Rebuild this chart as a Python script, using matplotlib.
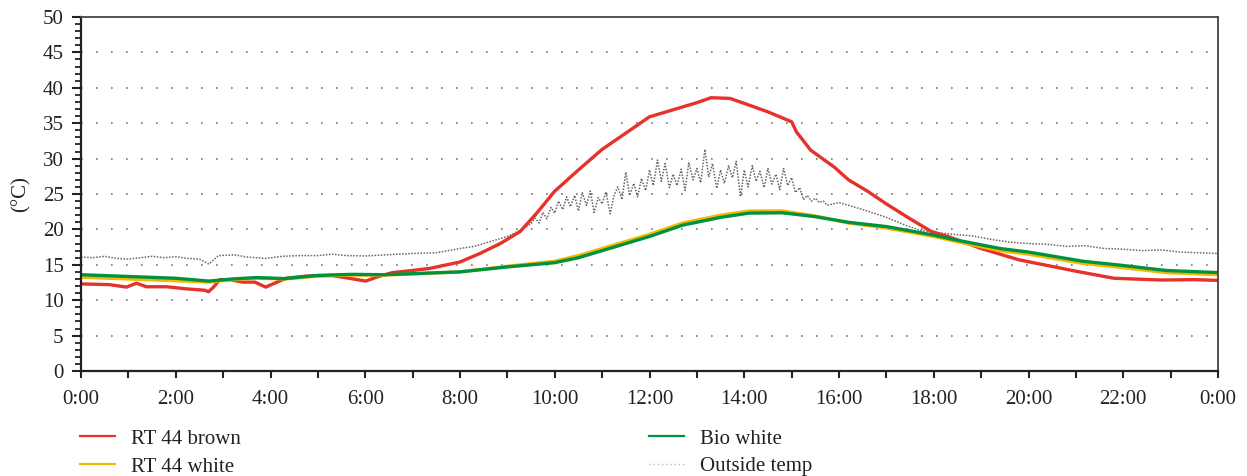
import matplotlib
matplotlib.use("Agg")
import matplotlib.pyplot as plt
from matplotlib.ticker import MultipleLocator, FixedLocator
from matplotlib.lines import Line2D

plt.rcParams['font.family'] = ['Liberation Serif', 'DejaVu Serif']

# ---------------- data (hours of day, °C) ----------------
red_t = [0, 0.6, 0.96, 1.17, 1.38, 1.8, 2.23, 2.62, 2.69, 2.79, 2.93, 3.14, 3.42, 3.67, 3.9,
         4.12, 4.33, 4.75, 5.28, 5.66, 6.01, 6.3, 6.58, 7.0, 7.37, 8.0, 8.42, 8.85, 9.27, 9.62,
         10.0, 10.5, 11.0, 11.5, 12.0, 12.5, 13.0, 13.3, 13.7, 14.0, 14.5, 15.0, 15.1, 15.4,
         15.9, 16.2, 16.6, 17.0, 17.5, 17.95, 18.3, 19.0, 19.4, 19.8, 20.7, 21.0, 21.8, 22.8, 23.5, 24.0]
red_v = [12.3, 12.2, 11.85, 12.4, 11.9, 11.9, 11.6, 11.4, 11.2, 11.8, 12.9, 12.9, 12.55, 12.55, 11.85,
         12.5, 13.1, 13.4, 13.5, 13.1, 12.7, 13.4, 13.9, 14.2, 14.5, 15.4, 16.6, 18.0, 19.7, 22.3,
         25.4, 28.4, 31.3, 33.6, 35.9, 36.9, 37.9, 38.6, 38.5, 37.8, 36.6, 35.2, 33.8, 31.2,
         28.8, 27.0, 25.4, 23.6, 21.5, 19.7, 19.0, 17.3, 16.5, 15.7, 14.5, 14.1, 13.1, 12.85, 12.9, 12.8]

bio_t = [0, 1, 2, 2.7, 3.2, 3.7, 4.3, 5, 5.7, 6.4, 7, 8, 9, 10.0, 10.5, 11.3, 12, 12.7, 13.5,
         14.1, 14.8, 15.5, 16.2, 17, 18, 18.4, 19.4, 20, 21.15, 22, 22.9, 24]
bio_v = [13.6, 13.35, 13.1, 12.7, 13.0, 13.2, 13.05, 13.5, 13.65, 13.6, 13.75, 14.0, 14.7, 15.3,
         16.0, 17.6, 19.0, 20.6, 21.7, 22.3, 22.35, 21.8, 21.0, 20.4, 19.2, 18.6, 17.3, 16.8,
         15.5, 14.9, 14.2, 13.9]

white_t = bio_t
white_v = [13.25, 13.0, 12.75, 12.55, 12.9, 13.1, 13.0, 13.4, 13.55, 13.55, 13.7, 14.0, 14.8, 15.5,
           16.3, 17.9, 19.3, 20.9, 22.0, 22.6, 22.6, 21.9, 20.9, 20.2, 19.0, 18.4, 17.0, 16.5,
           15.2, 14.6, 13.9, 13.6]

out_t = [0, 0.25, 0.5, 0.75, 1, 1.25, 1.5, 1.75, 2, 2.25, 2.5, 2.7, 2.9, 3.25, 3.5, 3.9, 4.25,
         4.6, 5, 5.3, 5.6, 6, 6.4, 6.7, 7, 7.5, 8, 8.3, 8.6, 9, 9.25,
         9.50, 9.58, 9.67, 9.75, 9.83, 9.92, 10.00, 10.08, 10.17, 10.25, 10.33, 10.42, 10.50,
         10.58, 10.67, 10.75, 10.83, 10.92, 11.00, 11.08, 11.17, 11.25, 11.33, 11.42, 11.50,
         11.58, 11.67, 11.75, 11.83, 11.92, 12.00, 12.08, 12.17, 12.25, 12.33, 12.42, 12.50,
         12.58, 12.67, 12.75, 12.83, 12.92, 13.00, 13.08, 13.17, 13.25, 13.33, 13.42, 13.50,
         13.58, 13.67, 13.75, 13.83, 13.92, 14.00, 14.08, 14.17, 14.25, 14.33, 14.42, 14.50,
         14.58, 14.67, 14.75, 14.83, 14.92, 15.00, 15.08, 15.17, 15.25, 15.33, 15.42, 15.50,
         15.58, 15.67, 15.75,
         16, 16.3, 16.6, 17, 17.4, 17.7, 18, 18.4, 18.8, 19.2, 19.6, 20, 20.4, 20.8, 21.2, 21.6,
         22, 22.4, 22.8, 23.2, 23.6, 24]
out_v = [16.1, 16.0, 16.2, 15.9, 15.8, 16.0, 16.2, 16.0, 16.15, 15.9, 15.8, 15.1, 16.3, 16.4,
         16.1, 15.9, 16.2, 16.3, 16.3, 16.5, 16.3, 16.25, 16.4, 16.5, 16.6, 16.7, 17.3, 17.6,
         18.2, 19.0, 19.8,
         20.8, 21.6, 20.9, 22.4, 21.5, 23.1, 22.3, 24.0, 22.8, 24.6, 23.2, 24.8, 22.6,
         25.2, 23.4, 25.4, 22.4, 24.5, 23.6, 25.3, 22.2, 24.8, 26.0, 24.2, 28.1,
         24.8, 26.5, 24.6, 27.2, 25.5, 28.4, 26.2, 29.8, 26.8, 29.3, 25.9, 27.8,
         26.2, 28.5, 25.5, 29.4, 27.0, 28.6, 26.6, 31.3, 27.4, 29.3, 25.8, 28.4,
         26.5, 29.0, 27.3, 29.6, 24.6, 28.4, 26.0, 29.0, 26.8, 28.2, 25.9, 28.6,
         26.4, 27.8, 25.6, 28.6, 26.2, 27.3, 25.2, 25.9, 24.2, 24.8, 24.0, 24.4,
         23.8, 24.0, 23.4,
         23.8, 23.2, 22.6, 21.7, 20.6, 19.9, 19.6, 19.3, 19.1, 18.6, 18.2, 18.0, 17.9, 17.6,
         17.7, 17.3, 17.2, 17.0, 17.1, 16.8, 16.7, 16.6]

x_ticks = list(range(0, 25, 2))
x_labels = ["0:00", "2:00", "4:00", "6:00", "8:00", "10:00", "12:00", "14:00", "16:00",
            "18:00", "20:00", "22:00", "0:00"]
series_names = ["RT 44 brown", "RT 44 white", "Bio white", "Outside temp"]

# ---------------- figure ----------------
C_RED, C_YEL, C_GRN, C_OUT = "#e5322a", "#f6b800", "#00923f", "#666666"
TXT = '#222222'

fig = plt.figure(figsize=(12.47, 4.76), dpi=100)
ax = fig.add_axes([81/1247, 1-371/476, (1218-81)/1247, (371-17)/476])

l_out, = ax.plot(out_t, out_v, color=C_OUT, lw=1.1, ls=(0, (1, 1)))
l_red, = ax.plot(red_t, red_v, color=C_RED, lw=2.4)
l_yel, = ax.plot(white_t, white_v, color=C_YEL, lw=2.4)
l_grn, = ax.plot(bio_t, bio_v, color=C_GRN, lw=2.4)

ax.set_xlim(0, 24)
ax.set_ylim(0, 50)
ax.xaxis.set_major_locator(FixedLocator(x_ticks))
ax.set_xticklabels(x_labels)
ax.xaxis.set_minor_locator(MultipleLocator(1))
ax.yaxis.set_major_locator(MultipleLocator(5))
ax.yaxis.set_minor_locator(MultipleLocator(1))

ax.tick_params(axis='x', which='both', direction='out', length=5, width=1.5,
               labelsize=15, pad=9, color=TXT, labelcolor=TXT)
ax.tick_params(axis='y', which='major', direction='out', length=6.5, width=1.5,
               labelsize=15, pad=6, color=TXT, labelcolor=TXT)
ax.tick_params(axis='y', which='minor', direction='out', length=4, width=1.3, color=TXT)

for s in ['left', 'bottom']:
    ax.spines[s].set_linewidth(1.6)
    ax.spines[s].set_color(TXT)
for s in ['top', 'right']:
    ax.spines[s].set_linewidth(1.3)
    ax.spines[s].set_color('#444444')

for yv in range(5, 50, 5):
    ax.axhline(yv, color='#777777', lw=1.2, ls=(0, (1, 8)), zorder=0)

ax.set_ylabel("(°C)", fontsize=15, color=TXT, labelpad=9)

h1 = [Line2D([], [], color=C_RED, lw=1.6), Line2D([], [], color=C_YEL, lw=1.6)]
h2 = [Line2D([], [], color=C_GRN, lw=1.6), Line2D([], [], color='#bbbbbb', lw=1.0, ls=(0, (1, 2)))]
leg_kw = dict(frameon=False, fontsize=15, handlelength=1.7, handletextpad=0.75,
              labelspacing=0.4, borderpad=0, borderaxespad=0, loc='upper left')
lg1 = fig.legend(h1, series_names[:2], bbox_to_anchor=(80/1247, 1-429/476), **leg_kw)
lg2 = fig.legend(h2, series_names[2:], bbox_to_anchor=(649/1247, 1-429/476), **leg_kw)
for lg in (lg1, lg2):
    for t in lg.get_texts():
        t.set_color(TXT)

fig.savefig("out.png", dpi=100)
